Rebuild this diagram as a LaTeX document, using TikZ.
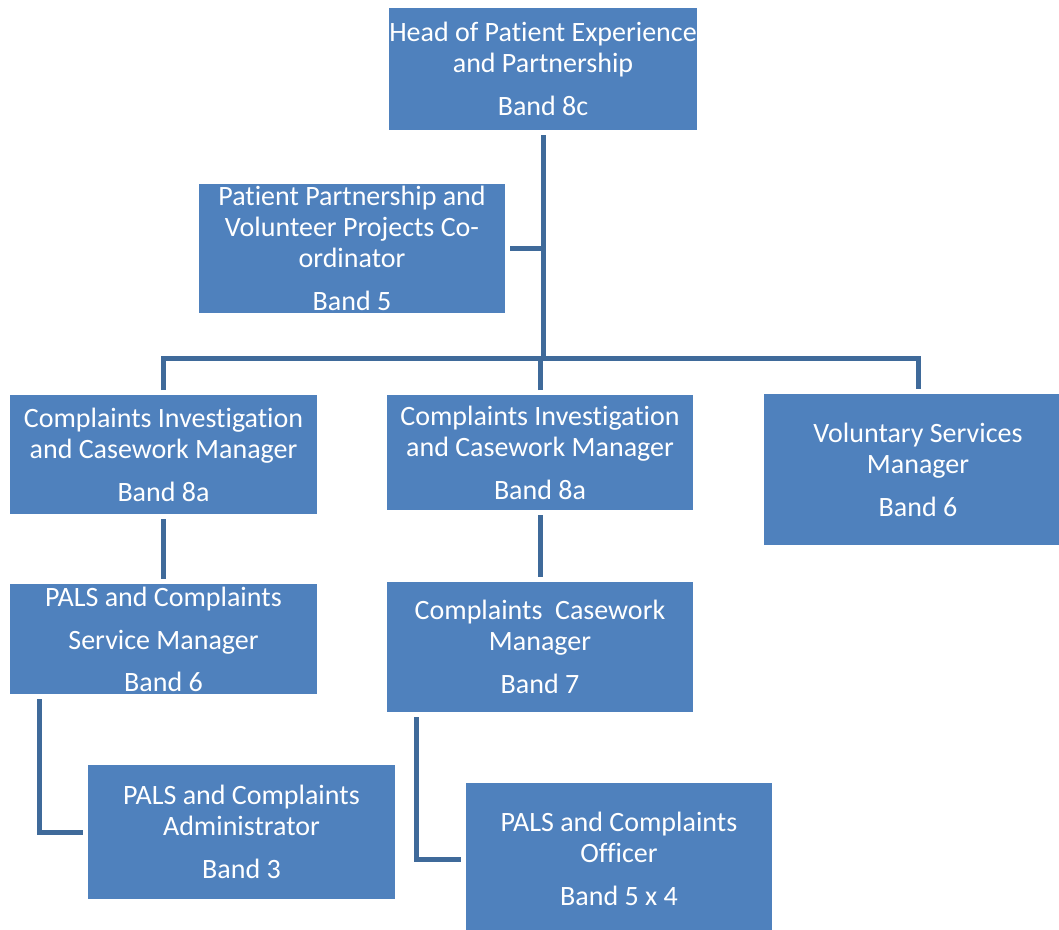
\documentclass[tikz,border=0pt]{standalone}
\usepackage{fontspec}
\setmainfont[Ligatures=CommonOff]{Carlito}
\definecolor{boxblue}{HTML}{4F81BD}
\definecolor{linkblue}{HTML}{3F6A9A}
\tikzset{
  orgbox/.style={fill=boxblue, draw=none, text=white, align=center, inner sep=0pt, outer sep=5pt,
    font=\fontsize{28}{31}\selectfont},
  link/.style={draw=linkblue, line width=5pt}
}
\begin{document}
\begin{tikzpicture}[x=1pt,y=-1pt]
\clip (0,0) rectangle (1059,929);
\useasboundingbox (0,0) rectangle (1059,929);
\node[orgbox, minimum width=306, minimum height=122] (head) at (543,69)
  {Head of Patient Experience\\ and Partnership\\[12pt] Band 8c};
\node[orgbox, minimum width=306, minimum height=129] (pp) at (352,248.5)
  {Patient Partnership and\\ Volunteer Projects Co-\\ ordinator\\[12pt] Band 5};
\node[orgbox, minimum width=307, minimum height=119] (ci1) at (163.5,454.5)
  {Complaints Investigation\\ and Casework Manager\\[12pt] Band 8a};
\node[orgbox, minimum width=306, minimum height=115] (ci2) at (540,452.5)
  {Complaints Investigation\\ and Casework Manager\\[12pt] Band 8a};
\node[orgbox, minimum width=308, minimum height=151] (vol) at (918,469.5)
  {Voluntary Services\\ Manager\\[12pt] Band 6};
\node[orgbox, minimum width=307, minimum height=110] (sm) at (163.5,639)
  {PALS and Complaints\\[12pt] Service Manager\\[11pt] Band 6};
\node[orgbox, minimum width=306, minimum height=130] (ccm) at (540,647)
  {Complaints\ \ Casework\\ Manager\\[12pt] Band 7};
\node[orgbox, minimum width=307, minimum height=134] (admin) at (241.5,832)
  {PALS and Complaints\\ Administrator\\[12pt] Band 3};
\node[orgbox, minimum width=306, minimum height=152] (off) at (619,859)
  {PALS and Complaints\\ Officer\\[12pt] Band 5 x 4};
\coordinate (bus) at (543,358);
\draw[link] (head.south) -- (bus);
\draw[link] (pp.east) -- (pp.east -| head.south);
\draw[link] (ci1.north) -- (ci1.north |- bus) -- (vol.north |- bus) -- (vol.north);
\draw[link] (ci2.north) -- (ci2.north |- bus);
\draw[link] (ci1.south) -- (sm.north);
\draw[link] (ci2.south) -- (ccm.north);
\draw[link] ([xshift=34pt]sm.south west) |- (admin.west);
\draw[link] ([xshift=34pt]ccm.south west) |- (off.west);
\end{tikzpicture}
\end{document}
